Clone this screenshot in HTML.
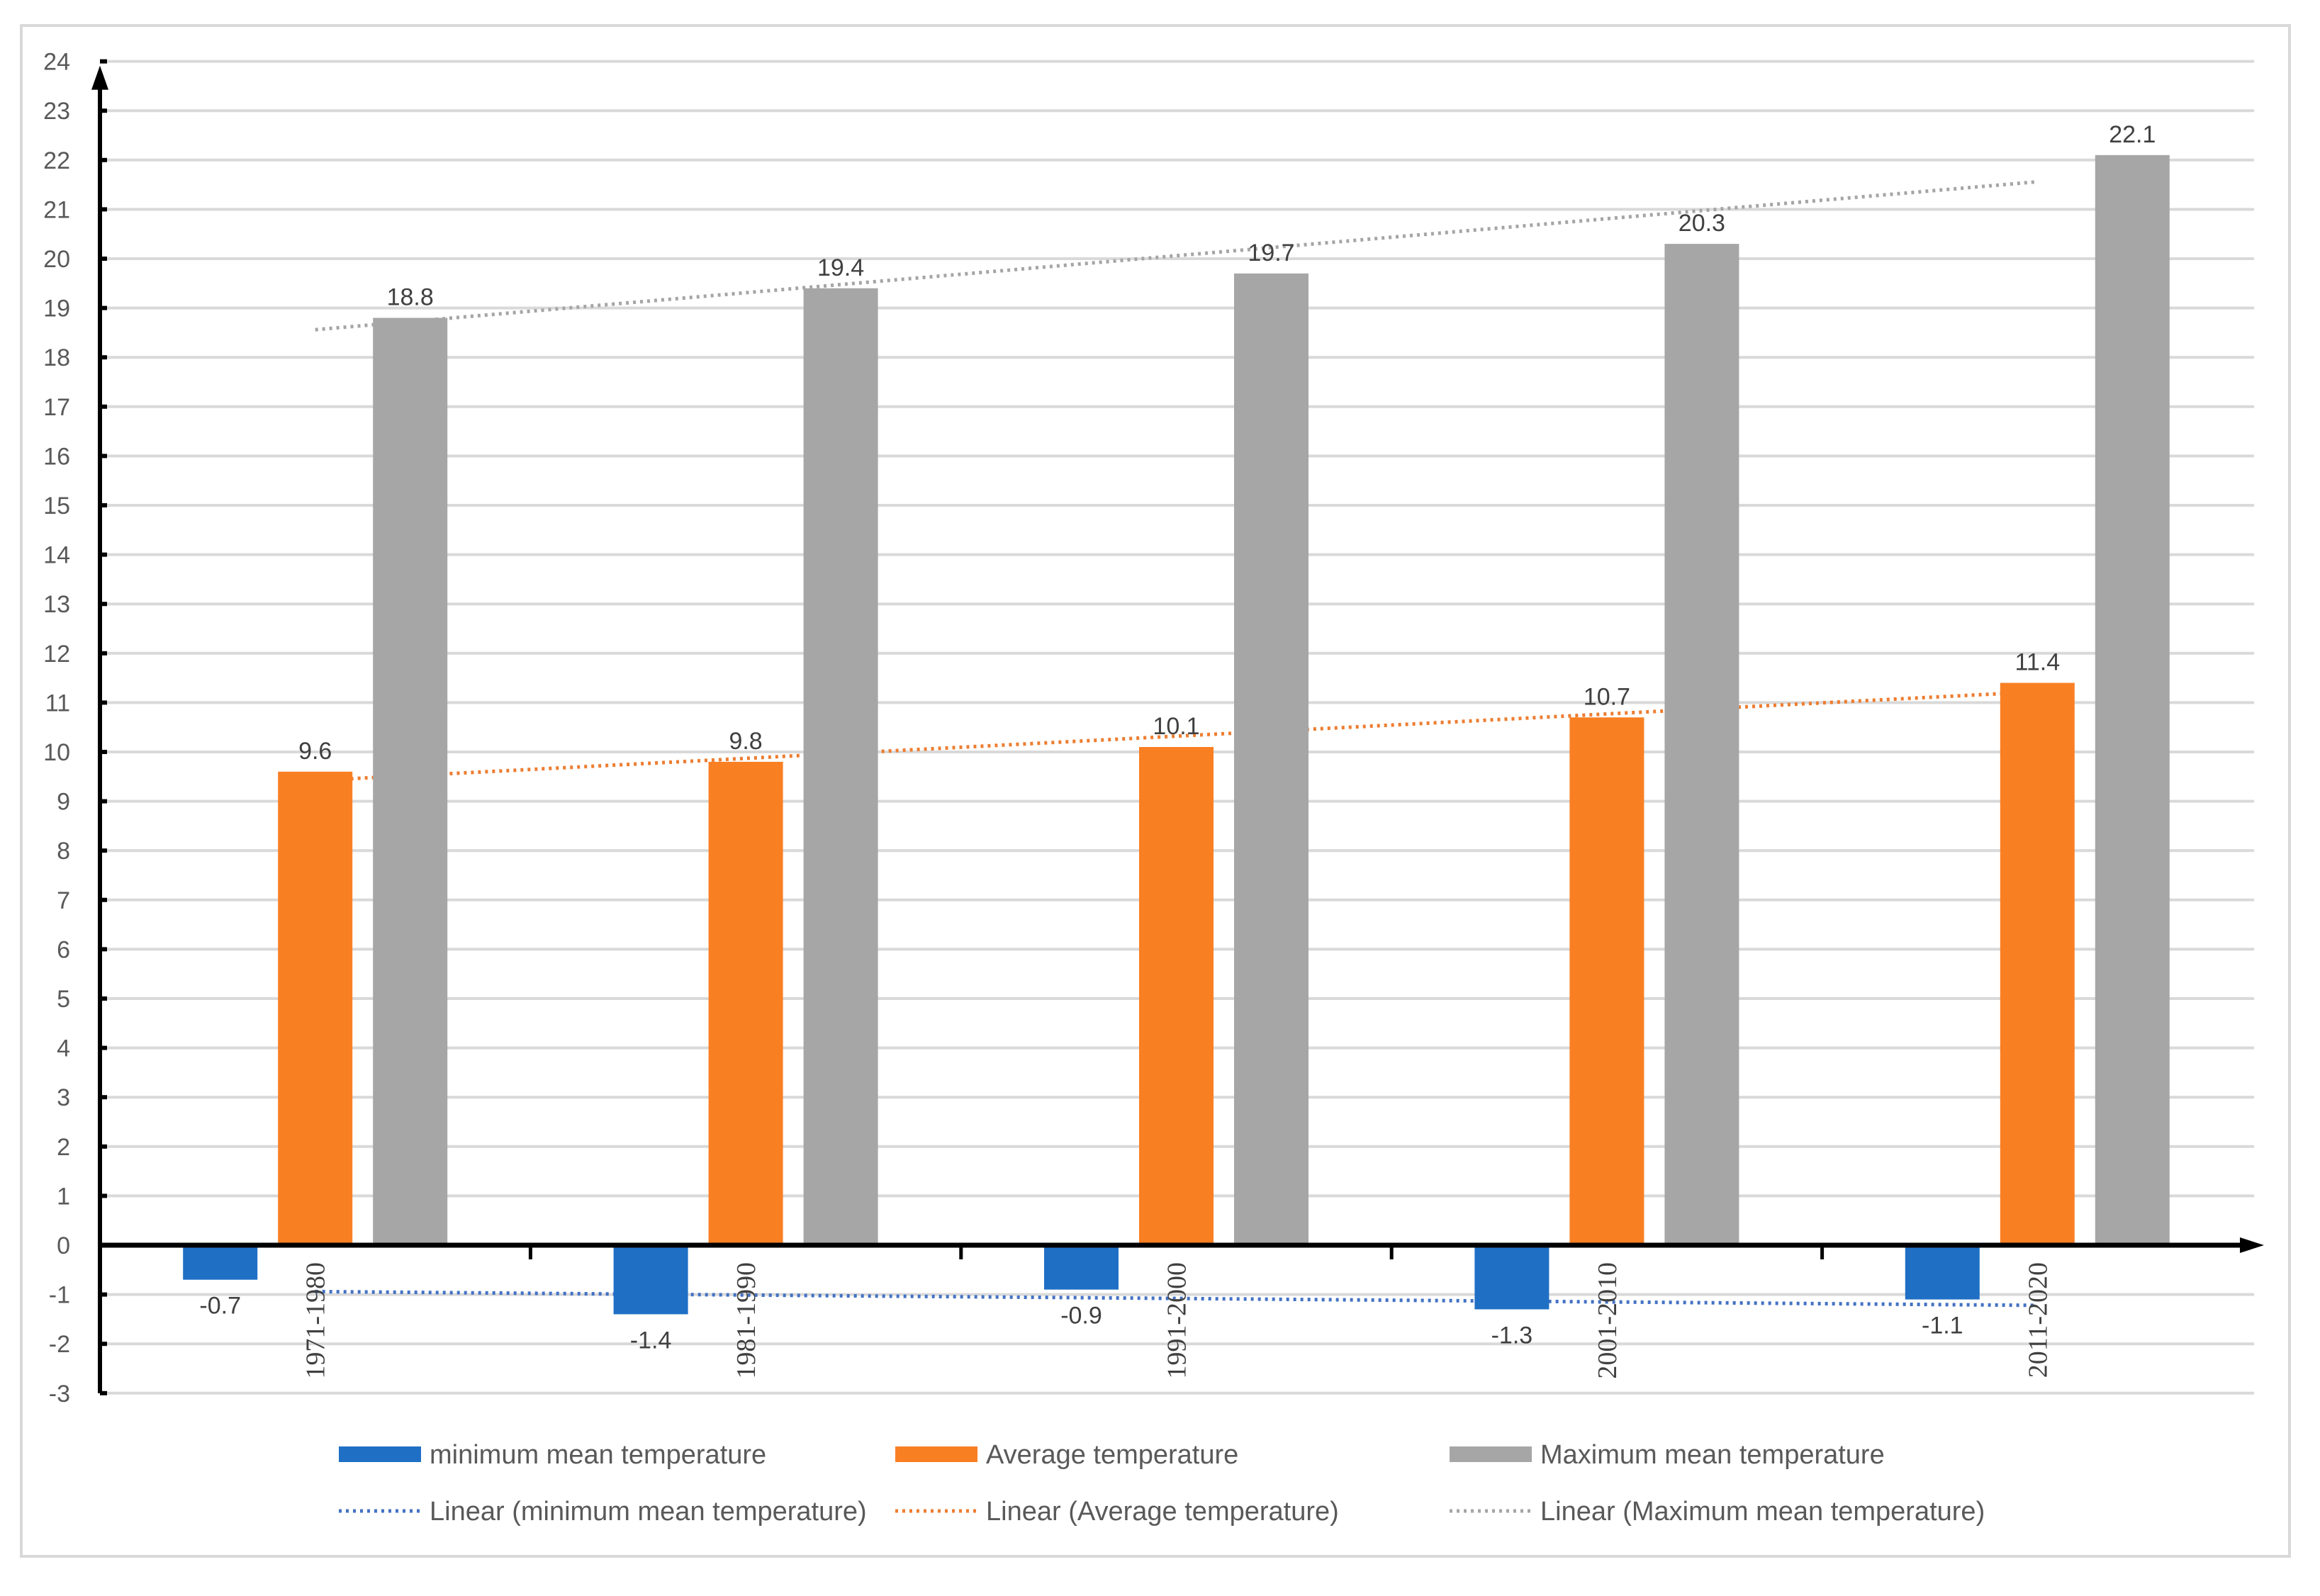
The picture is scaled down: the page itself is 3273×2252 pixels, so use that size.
<!DOCTYPE html>
<html><head><meta charset="utf-8"><style>
html,body{margin:0;padding:0;background:#fff;}
svg{display:block;}
</style></head><body>
<svg id="chart" width="3273" height="2252" viewBox="0 0 3273 2252" xmlns="http://www.w3.org/2000/svg">
<rect x="30" y="36" width="3200" height="2160" fill="#fff" stroke="#d9d9d9" stroke-width="4"/>
<g id="grid"></g><g id="trends"></g><g id="bars"></g><g id="axes"></g><g id="labels"></g><g id="legend"></g>
</svg>
<script>
const categories = ["1971-1980","1981-1990","1991-2000","2001-2010","2011-2020"];
const minTemps = [-0.7,-1.4,-0.9,-1.3,-1.1];
const avgTemps = [9.6,9.8,10.1,10.7,11.4];
const maxTemps = [18.8,19.4,19.7,20.3,22.1];
const yTicks = [-3,-2,-1,0,1,2,3,4,5,6,7,8,9,10,11,12,13,14,15,16,17,18,19,20,21,22,23,24];

const NS="http://www.w3.org/2000/svg";
const X0=141, X1=3178, Y0=1757, UNIT=69.6;
const catW=(X1-X0)/categories.length;
const yS=v=>Y0-v*UNIT;
const xC=i=>X0+catW*(i+0.5);
function mk(tag,attrs,parent,text){const e=document.createElementNS(NS,tag);for(const k in attrs)e.setAttribute(k,attrs[k]);if(text!==undefined)e.textContent=text;parent.appendChild(e);return e;}
const G=id=>document.getElementById(id);

yTicks.forEach(t=>{
  const l=mk('line',{x1:X0,x2:X1+2,y1:yS(t),y2:yS(t),stroke:'#d9d9d9','stroke-width':4},G('grid'));
  
  
  const tx=mk('text',{x:99,y:yS(t)+12,'text-anchor':'end','font-family':'Liberation Sans, sans-serif','font-size':34,fill:'#595959'},G('labels'),String(t));
  
  
});

function trend(vals,color,name){
  const n=vals.length, mx=(n-1)/2, my=vals.reduce((a,b)=>a+b,0)/n;
  let num=0,den=0; vals.forEach((v,i)=>{num+=(i-mx)*(v-my);den+=(i-mx)*(i-mx);});
  const s=num/den, b=my-s*mx;
  const l=mk('line',{x1:xC(0),y1:yS(b),x2:xC(n-1),y2:yS(b+s*(n-1)),stroke:color,'stroke-width':5,'stroke-dasharray':'4 6'},G('trends'));
  
  
}
trend(minTemps,'#4472c4','trend-minimum');
trend(avgTemps,'#ed7d31','trend-average');
trend(maxTemps,'#a5a5a5','trend-maximum');

const BW=105, OFF=134;
const series=[[minTemps,'#1f6fc5',-OFF,'bar-minimum'],[avgTemps,'#f97f23',0,'bar-average'],[maxTemps,'#a6a6a6',OFF,'bar-maximum']];
series.forEach(([vals,col,off,name])=>{
  vals.forEach((v,i)=>{
    const cx=xC(i)+off, top=Math.min(yS(v),Y0), h=Math.abs(yS(v)-Y0);
    const r=mk('rect',{x:cx-BW/2,y:top,width:BW,height:h,fill:col},G('bars'));
    
    
    const ly=v>=0?yS(v)-18:yS(v)+48;
    const t=mk('text',{x:cx,y:ly,'text-anchor':'middle','font-family':'Liberation Sans, sans-serif','font-size':34,fill:'#404040'},G('labels'),v.toFixed(1));
    
    
  });
});

const ax=G('axes');
const ya=mk('line',{x1:X0,y1:yS(-3),x2:X0,y2:yS(24)+20,stroke:'#000','stroke-width':6},ax);


const yar=mk('polygon',{points:`${X0-12},${yS(24)+40} ${X0+12},${yS(24)+40} ${X0},${yS(24)+6}`,fill:'#000'},ax);


yTicks.forEach(t=>{const k=mk('line',{x1:X0,x2:X0+10,y1:yS(t),y2:yS(t),stroke:'#000','stroke-width':6},ax);
  
  });
const xa=mk('line',{x1:X0,y1:Y0,x2:3170,y2:Y0,stroke:'#000','stroke-width':7},ax);


const xar=mk('polygon',{points:`3160,${Y0-11} 3160,${Y0+11} 3194,${Y0}`,fill:'#000'},ax);


for(let i=1;i<categories.length;i++){const k=mk('line',{x1:X0+catW*i,x2:X0+catW*i,y1:Y0,y2:Y0+20,stroke:'#000','stroke-width':5},ax);
  
  }
categories.forEach((c,i)=>{
  const x=xC(i)+13, y=Y0+24;
  const t=mk('text',{x:x,y:y,transform:`rotate(-90 ${x} ${y})`,'text-anchor':'end','font-family':'Liberation Serif, serif','font-size':38,fill:'#404040'},G('labels'),c);
  
  
});

const leg=[
 [478,2052,'rect','#1f6fc5','minimum mean temperature','legend-minimum'],
 [1263,2052,'rect','#f97f23','Average temperature','legend-average'],
 [2045,2052,'rect','#a6a6a6','Maximum mean temperature','legend-maximum'],
 [478,2132,'line','#4472c4','Linear (minimum mean temperature)','legend-trend-minimum'],
 [1263,2132,'line','#ed7d31','Linear (Average temperature)','legend-trend-average'],
 [2045,2132,'line','#a5a5a5','Linear (Maximum mean temperature)','legend-trend-maximum']];
leg.forEach(([x,y,kind,col,label,name])=>{
  const g=mk('g',{},G('legend'));
  
  
  if(kind==='rect') mk('rect',{x:x,y:y-11,width:116,height:22,fill:col},g);
  else mk('line',{x1:x,x2:x+116,y1:y,y2:y,stroke:col,'stroke-width':5,'stroke-dasharray':'4 6'},g);
  mk('text',{x:x+128,y:y+13,'font-family':'Liberation Sans, sans-serif','font-size':38,fill:'#595959'},g,label);
});
</script>
</body></html>
